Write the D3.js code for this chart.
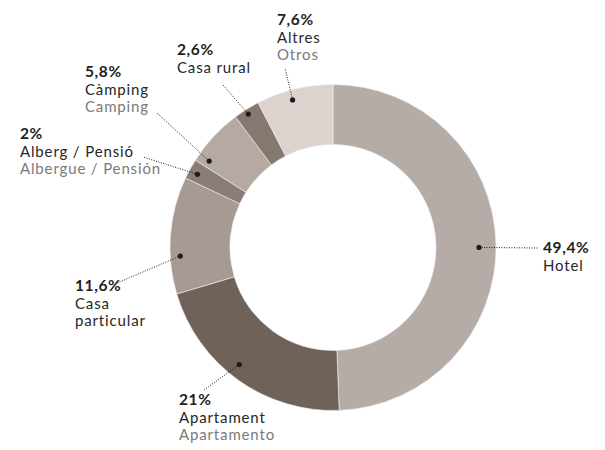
<!DOCTYPE html>
<html>
<head>
<meta charset="utf-8">
<script src="https://cdn.jsdelivr.net/npm/d3@7/dist/d3.min.js"></script>
<style>
  html, body { margin: 0; padding: 0; background: #fff; }
  svg { display: block; }
  text { font-family: "Lato", "Open Sans", sans-serif; }
</style>
</head>
<body>
<svg id="chart" width="605" height="450"></svg>
<script>
// ---- data ----
const categories = ["Hotel", "Apartament", "Casa particular", "Alberg / Pensió", "Càmping", "Casa rural", "Altres"];
const catalanLines = [["Hotel"], ["Apartament"], ["Casa", "particular"], ["Alberg / Pensió"], ["Càmping"], ["Casa rural"], ["Altres"]];
const spanishLabels = ["", "Apartamento", "", "Albergue / Pensión", "Camping", "", "Otros"];
const values = [49.4, 21, 11.6, 2, 5.8, 2.6, 7.6];
const valueLabels = ["49,4%", "21%", "11,6%", "2%", "5,8%", "2,6%", "7,6%"];
const colors = ["#b6aca7", "#6f6259", "#a79993", "#8b7d75", "#b4a9a3", "#85786f", "#dcd3ce"];

// ---- layout (annotation placement) ----
const labelPos = [[543, 253], [179, 405], [75, 291], [20, 139], [85, 77], [177, 55], [277, 25]];
const leaderEnd = [[538, 248], [204, 390], [117, 283], [143, 157], [157, 113], [223, 85], [285, 68]];
const dotFrac = [0.506, 0.54, 0.32, 0.44, 0.12, 0.46, 0.44];
const dotR = [146, 150, 153, 154, 151, 158, 153];

const cx = 333, cy = 247.5, rOuter = 163, rInner = 103;
const svg = d3.select("#chart");
const g = svg.append("g").attr("transform", `translate(${cx},${cy})`);

const pie = d3.pie().sort(null).value(d => d).startAngle(0).endAngle(2 * Math.PI);
const arcs = pie(values);
const arc = d3.arc().innerRadius(rInner).outerRadius(rOuter);

g.selectAll("path.slice").data(arcs).join("path")
  .attr("class", "slice")
  .attr("d", arc)
  .attr("fill", (d, i) => colors[i])
  .attr("stroke", "#f3efec")
  .attr("stroke-width", 0.6);

// dot positions derived from slice angles
const dots = arcs.map((d, i) => {
  const a = d.startAngle + (d.endAngle - d.startAngle) * dotFrac[i];
  return [cx + Math.sin(a) * dotR[i], cy - Math.cos(a) * dotR[i]];
});

const ann = svg.append("g");
ann.selectAll("line.leader").data(dots).join("line")
  .attr("class", "leader")
  .attr("x1", d => d[0]).attr("y1", d => d[1])
  .attr("x2", (d, i) => leaderEnd[i][0]).attr("y2", (d, i) => leaderEnd[i][1])
  .attr("stroke", "#1b1b24")
  .attr("stroke-width", 1)
  .attr("stroke-dasharray", "1 1.5");

ann.selectAll("circle.dot").data(dots).join("circle")
  .attr("class", "dot")
  .attr("cx", d => d[0]).attr("cy", d => d[1])
  .attr("r", 2.6)
  .attr("fill", "#1b1b24");

const lh = 17.5;
categories.forEach((c, i) => {
  const [x, y] = labelPos[i];
  const t = ann.append("text").attr("x", x).attr("y", y).attr("font-size", 15);
  t.append("tspan").attr("x", x).attr("y", y)
    .attr("font-weight", 700).attr("fill", "#1e1e22")
    .attr("font-size", 15.5).attr("letter-spacing", 0.6)
    .text(valueLabels[i]);
  let line = 1;
  catalanLines[i].forEach(l => {
    t.append("tspan").attr("x", x).attr("y", y + lh * line)
      .attr("fill", "#262629").attr("letter-spacing", 0.85).text(l);
    line++;
  });
  if (spanishLabels[i]) {
    t.append("tspan").attr("x", x).attr("y", y + lh * line)
      .attr("fill", "#7a7a7a").attr("letter-spacing", 0.85).text(spanishLabels[i]);
  }
});
</script>
</body>
</html>
